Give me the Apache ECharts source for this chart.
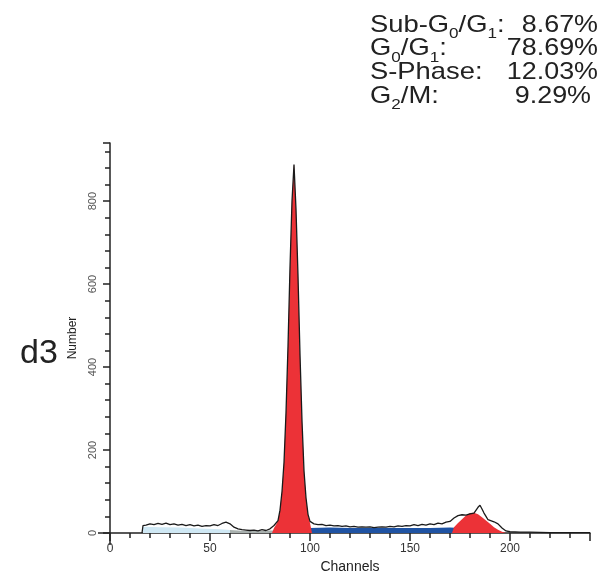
<!DOCTYPE html>
<html>
<head>
<meta charset="utf-8">
<script src="https://cdn.jsdelivr.net/npm/echarts@6/dist/echarts.min.js"></script>
<style>
html,body{margin:0;padding:0;background:#fff;}
#chart{width:614px;height:580px;}
</style>
</head>
<body>
<div id="chart"></div>
<script>
// ---- data (channel, count) ----
const rawHistogram = [
  [16,0],[16.5,18],[18,19],[20,22],[22,20],[24,23],[26,21],[28,24],[30,20],[32,22],[34,19],[36,21],
  [38,18],[40,20],[42,17],[44,19],[46,16],[48,18],[50,17],[52,20],[54,18],[56,23],[58,26],[60,22],
  [62,14],[64,10],[66,8],[68,7],[70,6],[72,7],[74,5],[76,8],[78,6],[80,10],[82,18],[84,30],[85,55],
  [86,100],[87,170],[88,290],[89,450],[90,640],[91,800],[92,888],[93,780],[94,620],[95,430],[96,270],
  [97,150],[98,85],[99,45],[100,28],[102,22],[104,20],[106,21],[108,18],[110,19],[112,17],[114,18],
  [116,16],[118,17],[120,15],[122,16],[124,14],[126,15],[128,14],[130,15],[132,13],[134,14],[136,15],
  [138,14],[140,16],[142,15],[144,17],[146,16],[148,18],[150,17],[152,20],[154,18],[156,21],[158,19],
  [160,22],[162,20],[164,24],[166,22],[168,26],[170,28],[172,36],[174,42],[176,44],[178,43],[180,46],
  [182,48],[184,62],[185,67],[186,58],[187,48],[188,40],[189,32],[190,28],[192,27],[194,22],[196,12],
  [198,5],[200,3],[205,2],[210,2],[220,1],[230,1],[240,1]
];
const subG1Fit = [[16.5,0],[16.5,15],[25,14],[35,13],[45,11],[55,9],[60,7],[61,0]];
const debrisFit = [[60,0],[60,7],[64,6],[68,5],[72,5],[76,5],[80,6],[83,6],[83,0]];
const g1Fit = [
  [81,0],[82,12],[83,20],[84,30],[85,55],[86,100],[87,170],[88,290],[89,450],[90,640],[91,800],
  [92,888],[93,780],[94,620],[95,430],[96,270],[97,150],[98,85],[99,45],[100,24],[101,0]
];
const sPhaseFit = [
  [96,0],[97,8],[100,12],[110,13],[120,12],[130,12],[140,12],[150,12],[160,12],[170,13],[175,12],
  [180,10],[188,5],[195,0]
];
const g2Fit = [
  [171,0],[172,14],[174,24],[176,33],[178,42],[180,48],[182,49],[184,45],[186,38],[188,30],[190,22],
  [192,14],[194,8],[196,3],[198,0]
];
const xTicks = {min: 0, max: 240, interval: 50};
const yTicks = {min: 0, max: 940, interval: 200};
const statLabels = ['Sub-G{s|0}/G{s|1}:', 'G{s|0}/G{s|1}:', 'S-Phase:', 'G{s|2}/M:'];
const statValues = ['8.67%', '78.69%', '12.03%', '9.29%'];
const panelLabel = 'd3';

const chart = echarts.init(document.getElementById('chart'), null, {renderer: 'canvas'});
const FONT = 'Liberation Sans, Arial, Helvetica, sans-serif';
const axisColor = '#222';
const statRight = [598, 598, 598, 591];

function areaSeries(data, color) {
  return {
    type: 'line', data: data, symbol: 'none', silent: true, animation: false,
    lineStyle: {width: 0, color: color}, areaStyle: {color: color, opacity: 1}
  };
}

const statGraphics = [];
statLabels.forEach(function (lab, i) {
  const y = 8.5 + i * 23.7;
  const rich = {
    s: {fontSize: 15, fontFamily: FONT, verticalAlign: 'bottom', lineHeight: 15, padding: [18, 0, 0, 0], fill: '#222'}
  };
  statGraphics.push({
    type: 'text', x: 370, y: y, scaleX: 1.14,
    style: {text: lab, rich: rich, font: '24px ' + FONT, lineHeight: 33, fill: '#222', verticalAlign: 'top'}
  });
  statGraphics.push({
    type: 'text', x: statRight[i], y: y, scaleX: 1.12,
    style: {text: statValues[i], font: '24px ' + FONT, lineHeight: 33, fill: '#222', align: 'right', verticalAlign: 'top'}
  });
});

chart.setOption({
  animation: false,
  backgroundColor: '#fff',
  grid: {left: 110, right: 24, top: 143, bottom: 47},
  xAxis: {
    type: 'value', min: xTicks.min, max: xTicks.max, interval: xTicks.interval,
    name: 'Channels', nameLocation: 'middle', nameGap: 26,
    nameTextStyle: {fontFamily: FONT, fontSize: 14, color: '#222'},
    axisLine: {show: true, lineStyle: {color: axisColor, width: 1.5}},
    axisTick: {show: true, length: 8, lineStyle: {color: axisColor, width: 1.5}},
    minorTick: {show: true, splitNumber: 5, length: 5, lineStyle: {color: axisColor, width: 1.5}},
    axisLabel: {fontFamily: FONT, fontSize: 12, color: '#333', margin: 10, showMaxLabel: false},
    splitLine: {show: false}, minorSplitLine: {show: false}
  },
  yAxis: {
    type: 'value', min: yTicks.min, max: yTicks.max, interval: yTicks.interval,
    name: 'Number', nameLocation: 'middle', nameGap: 28, nameRotate: 90,
    nameTextStyle: {fontFamily: FONT, fontSize: 12, color: '#222'},
    axisLine: {show: true, lineStyle: {color: axisColor, width: 1.5}},
    axisTick: {show: true, length: 7, lineStyle: {color: axisColor, width: 1.5}},
    minorTick: {show: true, splitNumber: 5, length: 5, lineStyle: {color: axisColor, width: 1.5}},
    axisLabel: {fontFamily: FONT, fontSize: 11, color: '#555', rotate: 90, margin: 12, showMaxLabel: false},
    splitLine: {show: false}, minorSplitLine: {show: false}
  },
  series: [
    areaSeries(subG1Fit, '#cfe8f4'),
    areaSeries(debrisFit, '#a8b0ae'),
    areaSeries(sPhaseFit, '#1f53a3'),
    areaSeries(g1Fit, '#ec3237'),
    areaSeries(g2Fit, '#ec3237'),
    {
      type: 'line', data: rawHistogram, symbol: 'none', silent: true,
      lineStyle: {color: '#1a1a1a', width: 1.3}, z: 5
    }
  ]
});

// axis stubs past the origin (decoration, positioned from the axis scales)
const o = chart.convertToPixel({gridIndex: 0}, [0, 0]);
chart.setOption({
  graphic: statGraphics.concat([
    {type: 'text', x: 20, y: 337, style: {text: panelLabel, font: '34px ' + FONT, fill: '#222', verticalAlign: 'top'}},
    {type: 'line', shape: {x1: o[0] - 12, y1: o[1], x2: o[0], y2: o[1]}, style: {stroke: axisColor, lineWidth: 1.5}},
    {type: 'line', shape: {x1: o[0], y1: o[1], x2: o[0], y2: o[1] + 12}, style: {stroke: axisColor, lineWidth: 1.5}}
  ])
});
</script>
</body>
</html>
